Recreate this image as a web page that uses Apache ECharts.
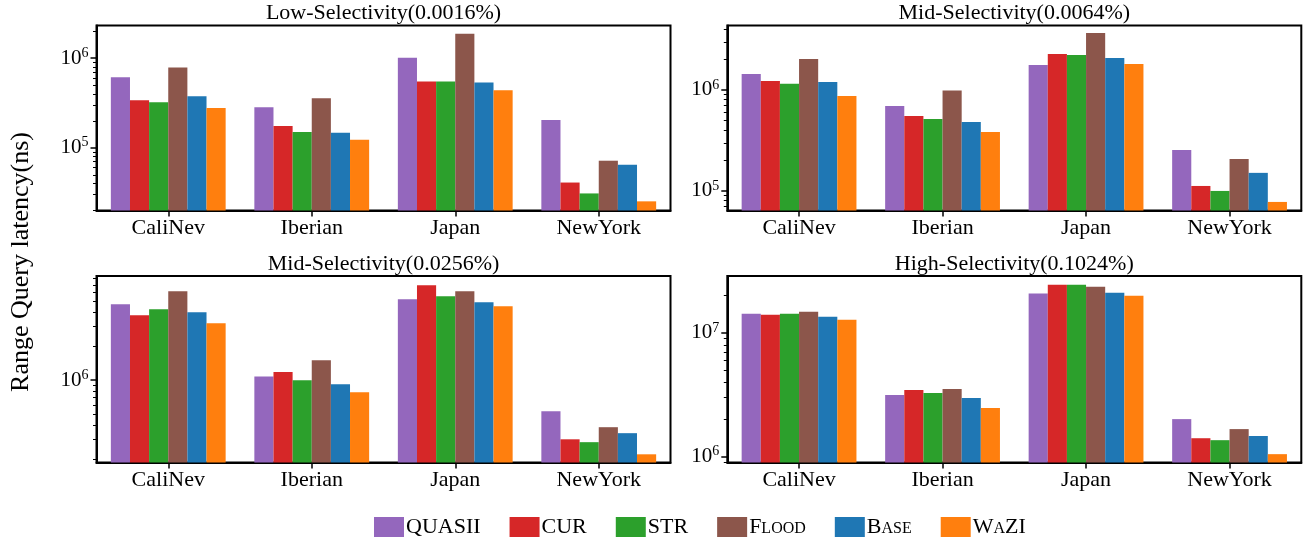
<!DOCTYPE html>
<html>
<head>
<meta charset="utf-8">
<script src="https://cdn.jsdelivr.net/npm/echarts@6/dist/echarts.min.js"></script>
<style>
  html, body { margin: 0; padding: 0; background: #fff; }
  #chart { width: 1309px; height: 545px; }
</style>
</head>
<body>
<div id="chart"></div>
<script>
// Range query latency (ns) per dataset, one row per index method.
const categories = ['CaliNev', 'Iberian', 'Japan', 'NewYork'];
const methods = ['QUASII', 'CUR', 'STR', 'Flood', 'Base', 'WaZI'];
const colors = ['#9467bd', '#d62728', '#2ca02c', '#8c564b', '#1f77b4', '#ff7f0e'];

const panelTitles = [
  'Low-Selectivity(0.0016%)',
  'Mid-Selectivity(0.0064%)',
  'Mid-Selectivity(0.0256%)',
  'High-Selectivity(0.1024%)'
];

// rows: QUASII, CUR, STR, Flood, Base, WaZI ; columns follow `categories`
const lowSel0016 = [
  [6.1e5, 2.84e5, 1.01e6, 2.04e5],
  [3.39e5, 1.75e5, 5.5e5, 4.1e4],
  [3.22e5, 1.50e5, 5.5e5, 3.1e4],
  [7.85e5, 3.57e5, 1.87e6, 7.18e4],
  [3.76e5, 1.47e5, 5.36e5, 6.49e4],
  [2.77e5, 1.23e5, 4.37e5, 2.53e4]
];
const midSel0064 = [
  [1.44e6, 6.95e5, 1.77e6, 2.55e5],
  [1.23e6, 5.53e5, 2.27e6, 1.12e5],
  [1.15e6, 5.17e5, 2.22e6, 1.0e5],
  [2.03e6, 9.9e5, 3.66e6, 2.07e5],
  [1.2e6, 4.82e5, 2.07e6, 1.51e5],
  [8.73e5, 3.84e5, 1.81e6, 7.78e4]
];
const midSel0256 = [
  [4.71e6, 1.08e6, 5.21e6, 5.32e5],
  [3.76e6, 1.18e6, 6.93e6, 3.0e5],
  [4.25e6, 1.0e6, 5.53e6, 2.83e5],
  [6.14e6, 1.50e6, 6.14e6, 3.84e5],
  [4.0e6, 9.2e5, 4.9e6, 3.4e5],
  [3.19e6, 7.83e5, 4.52e6, 2.21e5]
];
const highSel1024 = [
  [1.43e7, 3.13e6, 2.08e7, 2.0e6],
  [1.40e7, 3.44e6, 2.45e7, 1.40e6],
  [1.43e7, 3.25e6, 2.45e7, 1.35e6],
  [1.48e7, 3.51e6, 2.37e7, 1.66e6],
  [1.35e7, 2.96e6, 2.11e7, 1.46e6],
  [1.28e7, 2.46e6, 2.0e7, 1.04e6]
];
const panels = [lowSel0016, midSel0064, midSel0256, highSel1024];

// log-axis limits for each panel
const yMin = [2.0e4, 6.4e4, 1.87e5, 8.9e5];
const yMax = [2.31e6, 4.35e6, 8.37e6, 2.89e7];

const FONT = 'Liberation Serif';

const gridRects = [
  { left: 96.5, top: 25.5, width: 574, height: 185 },
  { left: 727.3, top: 25.5, width: 574, height: 185 },
  { left: 96.5, top: 276, width: 574, height: 186.5 },
  { left: 727.3, top: 276, width: 574, height: 186.5 }
];

function decadeTicks(lo, hi) {
  const out = [];
  for (let e = Math.ceil(Math.log10(lo) - 1e-9); Math.pow(10, e) <= hi; e++) out.push(Math.pow(10, e));
  return out;
}
function minorTicks(lo, hi) {
  const out = [];
  for (let e = Math.floor(Math.log10(lo)); Math.pow(10, e) <= hi; e++) {
    for (let k = 2; k <= 9; k++) {
      const v = k * Math.pow(10, e);
      if (v >= lo && v <= hi) out.push(v);
    }
  }
  return out;
}

const grid = [], xAxis = [], yAxis = [], series = [], graphic = [];

gridRects.forEach((r, p) => {
  grid.push(Object.assign({ show: true, borderColor: '#000', borderWidth: 2, backgroundColor: 'transparent' }, r));
  xAxis.push({
    type: 'category', gridIndex: p, data: categories,
    axisLine: { show: true, lineStyle: { color: '#000', width: 2 } },
    axisTick: { show: true, alignWithLabel: true, length: 6, lineStyle: { color: '#000', width: 1.5 } },
    axisLabel: { color: '#000', fontFamily: FONT, fontSize: 22, margin: 7 },
    splitLine: { show: false }
  });
  const majors = decadeTicks(yMin[p], yMax[p]);
  yAxis.push({
    type: 'log', logBase: 10, gridIndex: p, position: 'left', min: yMin[p], max: yMax[p],
    axisLine: { show: true, lineStyle: { color: '#000', width: 2 } },
    axisTick: { show: true, length: 6, customValues: majors, lineStyle: { color: '#000', width: 1.5 } },
    axisLabel: {
      customValues: majors, margin: 8,
      formatter: v => '{b|10}{s|' + Math.round(Math.log10(v)) + '}',
      rich: {
        b: { fontFamily: FONT, fontSize: 21, color: '#000' },
        s: { fontFamily: FONT, fontSize: 14, color: '#000', padding: [0, 0, 10, 0] }
      }
    },
    splitLine: { show: false }
  });
  yAxis.push({
    type: 'log', logBase: 10, gridIndex: p, position: 'left', min: yMin[p], max: yMax[p],
    axisLine: { show: false },
    axisTick: { show: true, length: 3.5, customValues: minorTicks(yMin[p], yMax[p]), lineStyle: { color: '#000', width: 1 } },
    axisLabel: { show: false },
    splitLine: { show: false }
  });
  panels[p].forEach((row, m) => {
    series.push({
      type: 'bar', name: methods[m], xAxisIndex: p, yAxisIndex: 2 * p,
      data: row, clip: true,
      barGap: '0%', barCategoryGap: '20%',
      itemStyle: { color: colors[m] },
      emphasis: { disabled: true }
    });
  });
  graphic.push({
    type: 'text', x: r.left + r.width / 2, y: r.top - 12,
    style: { text: panelTitles[p], fontFamily: FONT, fontSize: 22, fill: '#000', textAlign: 'center', textVerticalAlign: 'middle' }
  });
});

graphic.push({
  type: 'text', x: 21, y: 262, rotation: Math.PI / 2,
  style: { text: 'Range Query latency(ns)', fontFamily: FONT, fontSize: 26, fill: '#000', textAlign: 'center', textVerticalAlign: 'middle' }
});

// small-caps legend names, built from a full-size initial and reduced capitals
const smallCaps = { Flood: '{l|F}{s|LOOD}', Base: '{l|B}{s|ASE}', WaZI: '{l|W}{s|A}{l|ZI}' };

const option = {
  animation: false,
  backgroundColor: '#fff',
  grid, xAxis, yAxis, series, graphic,
  legend: {
    data: methods, left: 374, top: 516, orient: 'horizontal', padding: 0,
    itemWidth: 30, itemHeight: 20, itemGap: 29, icon: 'rect',
    formatter: name => smallCaps[name] || name,
    textStyle: {
      fontFamily: FONT, fontSize: 22, color: '#000', padding: [0, 0, 0, -3],
      rich: {
        l: { fontFamily: FONT, fontSize: 22, color: '#000', verticalAlign: 'bottom' },
        s: { fontFamily: FONT, fontSize: 16, color: '#000', verticalAlign: 'bottom', padding: [0, 0, 1, 0] }
      }
    }
  }
};

const chart = echarts.init(document.getElementById('chart'), null, { renderer: 'canvas' });
chart.setOption(option);
</script>
</body>
</html>
